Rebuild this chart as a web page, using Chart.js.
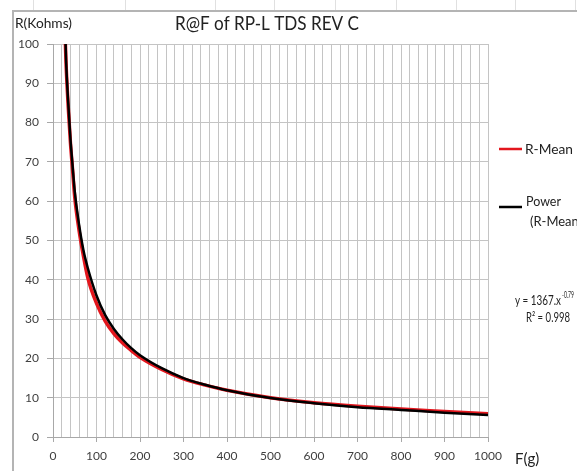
<!DOCTYPE html>
<html>
<head>
<meta charset="utf-8">
<script src="https://cdn.jsdelivr.net/npm/chart.js@4.4.1/dist/chart.umd.min.js"></script>
<style>
  html, body { margin: 0; padding: 0; background: #fff; }
  #wrap { width: 577px; height: 471px; position: relative; }
</style>
</head>
<body>
<div id="wrap"><canvas id="rfChart" width="577" height="471"></canvas></div>
<script>
// R-Mean measurements (force in g, resistance in kOhm)
const meanForce = [28.5, 30, 35, 40, 45, 50, 60, 70, 80, 100, 120, 140, 160, 180, 200, 250, 300, 350, 400, 500, 600, 700, 800, 900, 1000];
const meanR     = [100, 95, 84, 75, 68, 61, 52.5, 46, 40.5, 34, 29.5, 26.3, 23.9, 22, 20.3, 17.2, 14.8, 13.2, 11.9, 10.0, 8.7, 7.8, 7.1, 6.5, 5.9];

// Power trendline of R-Mean
const powForce = [29, 30, 35, 40, 45, 50, 60, 70, 80, 100, 120, 140, 160, 180, 200, 250, 300, 350, 400, 500, 600, 700, 800, 900, 1000];
const powR     = [100, 96, 85, 76, 69, 62.5, 54, 47.5, 43, 36, 31, 27.5, 24.8, 22.6, 20.8, 17.5, 15.0, 13.3, 11.9, 9.9, 8.6, 7.6, 6.9, 6.2, 5.6];

const xTicks = [0, 100, 200, 300, 400, 500, 600, 700, 800, 900, 1000];
const yTicks = [0, 10, 20, 30, 40, 50, 60, 70, 80, 90, 100];

const FONT = "Lato, 'Open Sans', sans-serif";
const gridColor = "#c4c4c4";

function toPoints(xs, ys) {
    return xs.map(function (x, i) { return { x: x, y: ys[i] }; });
}

// draws text squeezed to a width (the original uses a narrow font)
function fitText(c, text, x, y, size, width) {
    c.font = size + "px " + FONT;
    const w = c.measureText(text).width;
    const k = width ? Math.min(1, width / w) : 1;
    c.save();
    c.translate(x, y);
    c.scale(k, 1);
    c.fillText(text, 0, 0);
    c.restore();
    return w * k;
}

// sheet background, frame and the free-standing texts
const decor = {
    id: "decor",
    beforeDraw: function (chart) {
        const c = chart.ctx;
        c.save();
        c.fillStyle = "#fff";
        c.fillRect(0, 0, chart.width, chart.height);
        // spreadsheet cells peeking above the chart
        c.strokeStyle = "#e0e0e0";
        c.lineWidth = 1;
        [33, 125, 215, 274, 335, 396, 456, 515, 575].forEach(function (x) {
            c.beginPath(); c.moveTo(x + 0.5, 0); c.lineTo(x + 0.5, 10); c.stroke();
        });
        // chart frame
        c.strokeStyle = "#b4b4b4";
        c.lineWidth = 2;
        c.beginPath();
        c.moveTo(13, chart.height);
        c.lineTo(13, 11);
        c.lineTo(chart.width, 11);
        c.stroke();
        c.restore();
    },
    afterDraw: function (chart) {
        const c = chart.ctx;
        c.save();
        c.textBaseline = "middle";
        c.textAlign = "left";
        c.fillStyle = "#222";
        fitText(c, "R@F of RP-L TDS REV C", 175, 24, 18.5, 184);
        fitText(c, "R(Kohms)", 15, 23, 14, 57);
        fitText(c, "F(g)", 515, 459, 15, 25);

        // legend
        c.lineWidth = 2.5;
        c.strokeStyle = "#e3161d";
        c.beginPath(); c.moveTo(499, 149); c.lineTo(522, 149); c.stroke();
        fitText(c, "R-Mean", 525, 149, 14, 48);
        c.strokeStyle = "#000";
        c.beginPath(); c.moveTo(499, 207); c.lineTo(522, 207); c.stroke();
        fitText(c, "Power", 526, 201, 14, 35);
        fitText(c, "(R-Mean)", 530, 221, 14, 52);

        // trendline equation
        const w = fitText(c, "y = 1367.x", 515, 301, 13.5, 46);
        fitText(c, "-0.79", 515 + w + 1, 295, 9, 12);
        fitText(c, "R\u00b2 = 0.998", 526, 318, 13.5, 44);
        c.restore();
    }
};

new Chart("rfChart", {
    type: "line",
    data: {
        datasets: [{
            label: "R-Mean",
            data: toPoints(meanForce, meanR),
            borderColor: "#e3161d",
            borderWidth: 3.5,
            pointRadius: 0,
            cubicInterpolationMode: "monotone",
            order: 1
        }, {
            label: "Power (R-Mean)",
            data: toPoints(powForce, powR),
            borderColor: "#000",
            borderWidth: 2.5,
            pointRadius: 0,
            cubicInterpolationMode: "monotone",
            order: 0
        }]
    },
    options: {
        responsive: false,
        animation: false,
        layout: { padding: { top: 44, right: 89, left: 0, bottom: 0 } },
        plugins: {
            legend: { display: false },
            title: { display: false },
            tooltip: { enabled: false }
        },
        scales: {
            x: {
                type: "linear",
                min: 0,
                max: 1000,
                afterFit: function (s) { s.height = 34; },
                border: { color: "#a8a8a8", width: 1 },
                grid: {
                    color: gridColor,
                    tickLength: 5,
                    tickColor: function (ctx) {
                        return ctx.tick && xTicks.indexOf(ctx.tick.value) >= 0 ? "#a8a8a8" : "rgba(0,0,0,0)";
                    }
                },
                ticks: {
                    stepSize: 20,
                    autoSkip: false,
                    maxRotation: 0,
                    padding: 7,
                    color: "#404040",
                    font: { family: FONT, size: 12 },
                    callback: function (v) { return xTicks.indexOf(v) >= 0 ? v : ""; }
                }
            },
            y: {
                min: 0,
                max: 100,
                afterFit: function (s) { s.width = 53; },
                border: { color: "#a8a8a8", width: 1 },
                grid: { color: gridColor, tickLength: 6, tickColor: "#a8a8a8" },
                ticks: {
                    stepSize: 10,
                    padding: 8,
                    color: "#404040",
                    font: { family: FONT, size: 12 },
                    callback: function (v) { return yTicks.indexOf(v) >= 0 ? v : ""; }
                }
            }
        }
    },
    plugins: [decor]
});
</script>
</body>
</html>
